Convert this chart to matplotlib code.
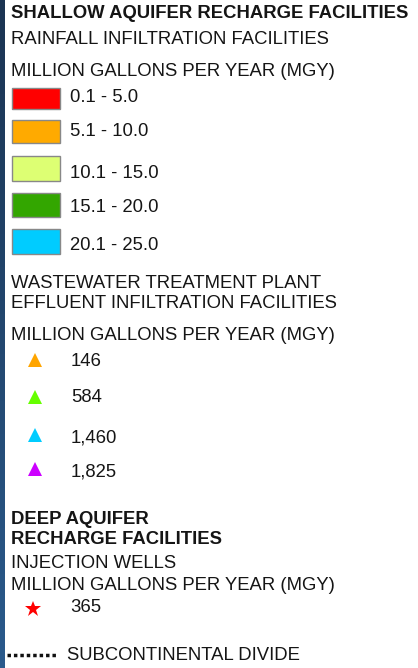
import numpy as np
import matplotlib
matplotlib.use("Agg")
import matplotlib.pyplot as plt
from matplotlib.patches import Rectangle

plt.rcParams['font.family'] = ['Liberation Sans', 'DejaVu Sans']

# легенда: мелкие водоносные горизонты
rain_ranges = ["0.1 - 5.0", "5.1 - 10.0", "10.1 - 15.0", "15.1 - 20.0", "20.1 - 25.0"]
rain_colors = ["#ff0000", "#ffaa00", "#ddff73", "#33a600", "#00ccff"]

# очистные сооружения
wwtp_values = ["146", "584", "1,460", "1,825"]
wwtp_colors = ["#ffa500", "#66ff00", "#00ccff", "#cc00ff"]

# глубокие горизонты
well_values = ["365"]
well_colors = ["#ff0000"]

W, H = 418, 668
fig = plt.figure(figsize=(W / 100, H / 100), dpi=100)
ax = fig.add_axes([0, 0, 1, 1])
ax.set_xlim(0, W)
ax.set_ylim(H, 0)
ax.axis("off")

# тёмная полоса слева
grad = np.linspace(0, 1, 100).reshape(-1, 1)
cmap = matplotlib.colors.LinearSegmentedColormap.from_list("b", ["#1b3452", "#2a5a8c"])
ax.imshow(grad, cmap=cmap, extent=(0, 5, H, 0), aspect="auto", zorder=0)

fs = 13.3
bold = dict(fontsize=fs, fontweight="bold", va="center", ha="left", color="#151515")
reg = dict(fontsize=fs, va="center", ha="left", color="#151515")

ax.text(11, 14, "SHALLOW AQUIFER RECHARGE FACILITIES", **bold)
ax.text(11, 40, "RAINFALL INFILTRATION FACILITIES", **reg)
ax.text(11, 71, "MILLION GALLONS PER YEAR (MGY)", **reg)

patch_top = [88, 120, 156, 193, 229]
patch_h = [21, 23, 25, 24, 25]
text_y = [98, 132, 174, 208, 245]
for lab, col, y0, h, ty in zip(rain_ranges, rain_colors, patch_top, patch_h, text_y):
    ax.add_patch(Rectangle((12, y0), 48, h, facecolor=col, edgecolor="#888888", lw=1))
    ax.text(70, ty, lab, **reg)

ax.text(11, 283, "WASTEWATER TREATMENT PLANT", **reg)
ax.text(11, 304, "EFFLUENT INFILTRATION FACILITIES", **reg)
ax.text(11, 335, "MILLION GALLONS PER YEAR (MGY)", **reg)

tri_y = [360, 397, 435, 469]
txt_y = [361, 397, 438, 472]
for lab, col, y, ty in zip(wwtp_values, wwtp_colors, tri_y, txt_y):
    ax.plot(35, y, marker="^", markersize=10, color=col, markeredgewidth=0)
    ax.text(71, ty, lab, **reg)

ax.text(11, 520, "DEEP AQUIFER", **bold)
ax.text(11, 540, "RECHARGE FACILITIES", **bold)
ax.text(11, 563, "INJECTION WELLS", **reg)
ax.text(11, 585, "MILLION GALLONS PER YEAR (MGY)", **reg)
for lab, col in zip(well_values, well_colors):
    ax.plot(33, 609, marker="*", markersize=12, color=col, markeredgewidth=0)
    ax.text(70, 607, lab, **reg)

ax.plot([7, 58], [655, 655], color="#111111", lw=2.5, linestyle=(0, (1.0, 0.85)))
ax.text(67, 655, "SUBCONTINENTAL DIVIDE", **reg)

fig.savefig("out.png", dpi=100)
